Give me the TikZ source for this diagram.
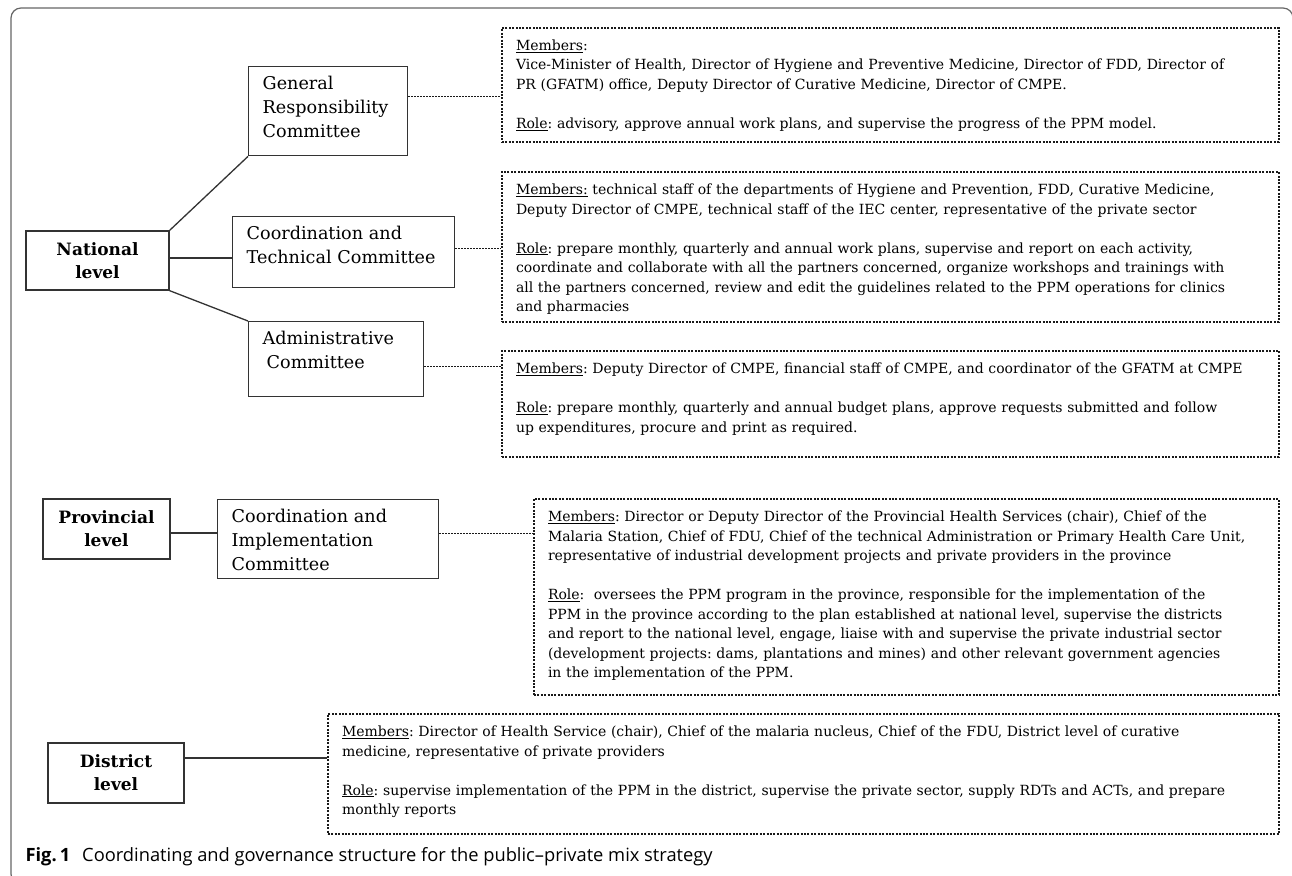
\documentclass[tikz,border=0pt]{standalone}
\usepackage{fontspec}
\setmainfont{DejaVu Serif}
\newfontfamily\captionfont{Open Sans}
\usepackage{tikz}
\hyphenpenalty=10000
\exhyphenpenalty=10000
\frenchspacing

\begin{document}
\begin{tikzpicture}[x=1pt, y=-1pt,
    levelbox/.style={draw=black!80, line width=1.4pt, align=center, inner sep=0pt,
        font=\fontsize{17}{23}\selectfont\bfseries},
    cmtbox/.style={draw=black!80, line width=1.4pt, anchor=north west, align=left,
        inner xsep=14pt, inner ysep=6pt, text height=16.5pt,
        font=\fontsize{17.6}{24}\selectfont},
    infobox/.style={draw=black!90, line width=2pt, dash pattern=on 2pt off 1.4pt,
        anchor=north west, align=left, inner xsep=14pt, inner ysep=9pt, text height=13.5pt,
        font=\fontsize{14}{19.5}\selectfont},
    solidline/.style={draw=black!80, line width=1.3pt},
    dotline/.style={draw=black!90, line width=1.5pt, dash pattern=on 1.5pt off 1.5pt}
]
    \useasboundingbox (0,0) rectangle (1292,875);

    % Outer frame
    \draw[black!60, line width=1.2pt, rounded corners=10pt] (11,8) rectangle (1293,884);

    % Levels
    \node at (97.5,260.5) [levelbox, minimum width=143pt, minimum height=59pt] (national) {National\\level};
    \node at (106.5,529) [levelbox, minimum width=127pt, minimum height=60pt] (provincial) {Provincial\\level};
    \node at (116,773) [levelbox, minimum width=136pt, minimum height=60pt] (district) {District\\level};

    % Committees
    \node at (248,66) [cmtbox, text width=131pt, text depth=60.5pt] (grcmt) {General\\Responsibility\\Committee};
    \node at (232,216) [cmtbox, text width=194pt, text depth=42.5pt] (ctcmt) {Coordination and\\Technical Committee};
    \node at (248,321) [cmtbox, text width=147pt, text depth=46.5pt] (adcmt) {Administrative\\\hspace*{4pt}Committee};
    \node at (217,499) [cmtbox, text width=193pt, text depth=50.5pt] (cicmt) {Coordination and\\Implementation\\Committee};

    % Members and roles
    \node at (501,27) [infobox, text width=749pt, text depth=82.5pt] (grinfo) {\underline{Members}:\\
        Vice-Minister of Health, Director of Hygiene and Preventive Medicine, Director of FDD, Director of\\
        PR (GFATM) office, Deputy Director of Curative Medicine, Director of CMPE.\\[19.5pt]
        \underline{Role}: advisory, approve annual work plans, and supervise the progress of the PPM model.};
    \node at (501,171) [infobox, text width=749pt, text depth=118.5pt] (ctinfo) {\underline{Members:} technical staff of the departments of Hygiene and Prevention, FDD, Curative Medicine,\\
        Deputy Director of CMPE, technical staff of the IEC center, representative of the private sector\\[19.5pt]
        \underline{Role}: prepare monthly, quarterly and annual work plans, supervise and report on each activity,\\
        coordinate and collaborate with all the partners concerned, organize workshops and trainings with\\
        all the partners concerned, review and edit the guidelines related to the PPM operations for clinics\\
        and pharmacies};
    \node at (501,350) [infobox, text width=749pt, text depth=74.5pt] (adinfo) {\underline{Members}: Deputy Director of CMPE, financial staff of CMPE, and coordinator of the GFATM at CMPE\\[19.5pt]
        \underline{Role}: prepare monthly, quarterly and annual budget plans, approve requests submitted and follow\\
        up expenditures, procure and print as required.};
    \node at (533,498) [infobox, text width=717pt, text depth=164.5pt] (ciinfo) {\underline{Members}: Director or Deputy Director of the Provincial Health Services (chair), Chief of the\\
        Malaria Station, Chief of FDU, Chief of the technical Administration or Primary Health Care Unit,\\
        representative of industrial development projects and private providers in the province\\[19.5pt]
        \underline{Role}:\ \ oversees the PPM program in the province, responsible for the implementation of the\\
        PPM in the province according to the plan established at national level, supervise the districts\\
        and report to the national level, engage, liaise with and supervise the private industrial sector\\
        (development projects: dams, plantations and mines) and other relevant government agencies\\
        in the implementation of the PPM.};
    \node at (327,713) [infobox, text width=923pt, text depth=88.5pt] (dsinfo) {\underline{Members}: Director of Health Service (chair), Chief of the malaria nucleus, Chief of the FDU, District level of curative\\
        medicine, representative of private providers\\[19.5pt]
        \underline{Role}: supervise implementation of the PPM in the district, supervise the private sector, supply RDTs and ACTs, and prepare\\
        monthly reports};

    % Level to committee links
    \draw[solidline] (national.north east) -- (grcmt.south west);
    \draw[solidline] ([yshift=2.5pt]national.east) -- ([yshift=2.5pt]national.east -| ctcmt.west);
    \draw[solidline] (national.south east) -- (adcmt.north west);
    \draw[solidline] ([yshift=-4pt]provincial.east) -- ([yshift=-4pt]provincial.east -| cicmt.west);
    \draw[solidline] ([yshift=15pt]district.east) -- ([yshift=15pt]district.east -| dsinfo.west);

    % Committee to info links
    \draw[dotline] ([yshift=14.5pt]grcmt.east) -- ([yshift=14.5pt]grcmt.east -| grinfo.west);
    \draw[dotline] ([yshift=3.5pt]ctcmt.east) -- ([yshift=3.5pt]ctcmt.east -| ctinfo.west);
    \draw[dotline] ([yshift=-7.5pt]adcmt.east) -- ([yshift=-7.5pt]adcmt.east -| adinfo.west);
    \draw[dotline] ([yshift=5.5pt]cicmt.east) -- ([yshift=5.5pt]cicmt.east -| ciinfo.west);

    % Caption
    \node at (22,857) [anchor=west, font=\captionfont\fontsize{18.3}{21}\selectfont] (caption) {\textbf{Fig.\,1}\hspace{12pt}Coordinating and governance structure for the public–private mix strategy};
\end{tikzpicture}
\end{document}
